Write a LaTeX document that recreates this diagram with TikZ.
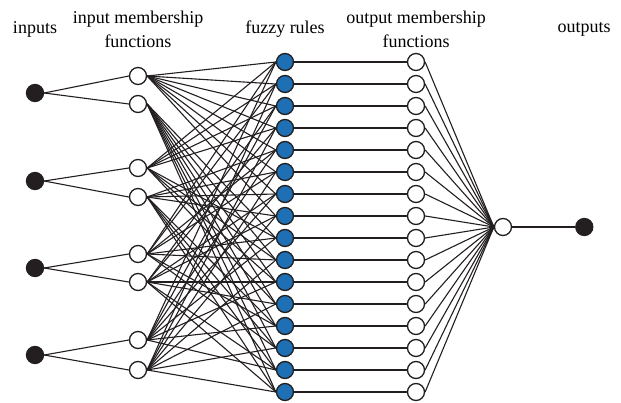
\documentclass[tikz,border=0pt]{standalone}
\usepackage{fontspec}
\setmainfont{Liberation Serif}
\usetikzlibrary{positioning}
\definecolor{rulefill}{RGB}{31,111,180}
\definecolor{ink}{RGB}{35,31,32}

\begin{document}
\begin{tikzpicture}[x=1pt, y=-1pt,
	innode/.style={circle,draw=ink,fill=ink,line width=1.3pt,minimum size=17pt,inner sep=0pt},
	mfnode/.style={circle,draw=ink,fill=white,line width=1.3pt,minimum size=17pt,inner sep=0pt},
	rnode/.style={circle,draw=ink,fill=rulefill,line width=1.3pt,minimum size=17pt,inner sep=0pt},
	link/.style={draw=ink,line width=1.1pt},
	lbl/.style={align=center,font=\fontsize{18}{24}\selectfont}]
	\useasboundingbox (0,0) rectangle (621,403);
	% inputs, two membership functions each
	\foreach \i/\y/\ya/\yb in {1/93/76/104, 2/181/168/197, 3/268/254/282, 4/355/340/370} {
		\pgfmathtruncatemacro\ma{2*\i-1}
		\pgfmathtruncatemacro\mb{2*\i}
		\node[innode] (in\i) at (35,\y) {};
		\node[mfnode] (mf\ma) at (138,\ya) {};
		\node[mfnode] (mf\mb) at (138,\yb) {};
		\draw[link] (in\i.east) -- (mf\ma.west);
		\draw[link] (in\i.east) -- (mf\mb.west);
	}
	% rules and output membership functions
	\foreach \k in {1,...,16} {
		\pgfmathsetmacro\y{62+22*(\k-1)}
		\node[rnode] (r\k) at (285,\y) {};
		\node[mfnode] (omf\k) at (416,\y) {};
		\draw[link] (r\k.east) -- (omf\k.west);
	}
	\node[mfnode] (agg) at (503,227) {};
	\node[innode] (out) [right = 63pt of agg] {};
	\draw[link] (agg.east) -- (out.west);
	% every rule takes one membership function of each input
	\foreach \k in {1,...,16} {
		\pgfmathtruncatemacro\a{1+div(\k-1,8)}
		\pgfmathtruncatemacro\b{3+mod(div(\k-1,4),2)}
		\pgfmathtruncatemacro\c{5+mod(div(\k-1,2),2)}
		\pgfmathtruncatemacro\d{7+mod(\k-1,2)}
		\foreach \m in {\a,\b,\c,\d}
			\draw[link] (mf\m.east) -- (r\k.west);
		\draw[link] (omf\k.east) -- (agg.west);
	}
	% column titles
	\node[lbl] (tin) at (35,29) {inputs};
	\node[lbl] (tinmf) at (138,29) {input membership\\functions};
	\node[lbl] (trules) at (285,29) {fuzzy rules};
	\node[lbl] (toutmf) at (416,29) {output membership\\functions};
	\node[lbl] (tout) at (584,29) {outputs};
\end{tikzpicture}
\end{document}
